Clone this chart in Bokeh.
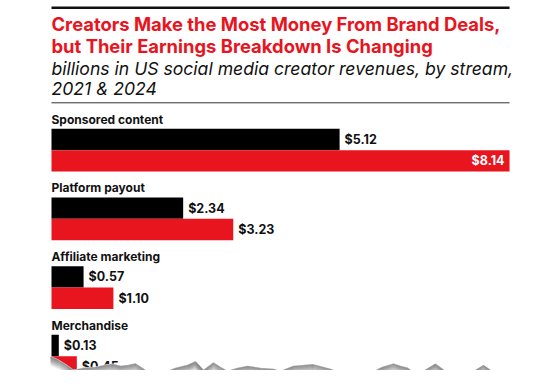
from bokeh.plotting import figure
from bokeh.models import Range1d
from bokeh.core.properties import value
from bokeh.embed import file_html
from bokeh.resources import INLINE

# ---------------- data ----------------
categories = ["Sponsored content", "Platform payout", "Affiliate marketing", "Merchandise"]
years = ["2021", "2024"]
values_2021 = [5.12, 2.34, 0.57, 0.13]
values_2024 = [8.14, 3.23, 1.10, 0.45]
title_lines = ["Creators Make the Most Money From Brand Deals,",
               "but Their Earnings Breakdown Is Changing"]
subtitle_lines = ["billions in US social media creator revenues, by stream,",
                  "2021 & 2024"]

# ---------------- style / layout ----------------
RED = "#E8141E"
BLACK = "#000000"
FONT = "Inter"
W, H = 544, 370
LEFT_PX = 51.0
PX_PER_UNIT = 56.27
GROUP_TOP0 = 128.3
GROUP_STEP = 68.67
BAR_H = 21.4

x_start = -LEFT_PX / PX_PER_UNIT
x_end = x_start + W / PX_PER_UNIT

p = figure(width=W, height=H, output_backend="svg", toolbar_location=None,
           x_range=Range1d(x_start, x_end),
           y_range=Range1d(H, 0),
           x_axis_location=None, y_axis_location=None,
           min_border=0, outline_line_color=None,
           background_fill_color="white", border_fill_color="white")
p.extra_x_ranges = {"px": Range1d(0, W)}
p.xgrid.visible = False
p.ygrid.visible = False

vmax = max(values_2024)

# header rules
p.segment(x0=[0], x1=[vmax], y0=[7.3], y1=[7.3], line_color="#111111", line_width=2.6)
p.segment(x0=[0], x1=[vmax], y0=[102.3], y1=[102.3], line_color="#333333", line_width=1)

# title & subtitle
p.text(x=[0, 0], y=[23.2, 45.0], text=title_lines, text_font=value(FONT),
       text_font_style="bold", text_font_size="18.4px", text_color=RED,
       text_baseline="middle", text_align="left")
p.text(x=[0, 0], y=[67.6, 88.4], text=subtitle_lines, text_font=value(FONT),
       text_font_style="italic", text_font_size="17.6px", text_color="#111111",
       text_baseline="middle", text_align="left")

# bars
tops = [GROUP_TOP0 + i * GROUP_STEP for i in range(len(categories))]
y21 = [t + BAR_H / 2 for t in tops]
y24 = [t + BAR_H * 1.5 for t in tops]
p.hbar(y=y21, left=0, right=values_2021, height=BAR_H, fill_color=BLACK, line_color=None)
p.hbar(y=y24, left=0, right=values_2024, height=BAR_H, fill_color=RED, line_color=None)

# category labels
p.text(x=[0] * len(categories), y=[t - 9.5 for t in tops], text=categories,
       text_font=value(FONT), text_font_style="bold", text_font_size="12px",
       text_color="#111111", text_baseline="middle", text_align="left")

# value labels
def fmt(v):
    return "$%.2f" % v

out_x, out_y, out_t, in_x, in_y, in_t = [], [], [], [], [], []
for vals, ys in ((values_2021, y21), (values_2024, y24)):
    for v, y in zip(vals, ys):
        if v >= 0.9 * vmax:
            in_x.append(v); in_y.append(y); in_t.append(fmt(v))
        else:
            out_x.append(v); out_y.append(y); out_t.append(fmt(v))
p.text(x=out_x, y=out_y, text=out_t, x_offset=5, text_font=value(FONT),
       text_font_style="bold", text_font_size="12.5px", text_color="#111111",
       text_baseline="middle", text_align="left")
p.text(x=in_x, y=in_y, text=in_t, x_offset=-5, text_font=value(FONT),
       text_font_style="bold", text_font_size="12.5px", text_color="white",
       text_baseline="middle", text_align="right")

# torn-paper edge (decoration, pixels)
tear_x = [50, 58, 66, 73, 83, 95, 105, 112, 120, 128, 135, 142, 150, 163, 175, 187,
          195, 203, 213, 220, 227, 237, 247, 260, 273, 280, 293, 313, 330, 340, 355,
          370, 382, 393, 400, 407, 417, 426, 435, 447, 467, 475, 483, 490, 497, 513, 516]
tear_y = [355.5, 359, 364, 369, 367, 366, 364, 363, 365, 364, 362.5, 367, 373, 371.5,
          367, 364, 360.5, 369, 361.5, 366, 370, 367, 365, 367, 368, 370, 365, 363.3,
          368, 371.7, 372, 371.7, 366, 362.7, 365, 366.7, 374, 368, 362.7, 371.7, 373.3,
          369, 364, 369, 373.3, 375, 378]
patch_x = [30] + tear_x + [560, 560, 30]
patch_y = [355.5] + tear_y + [378, 400, 400]
p.patch(patch_x, patch_y, x_range_name="px", fill_color="white", line_color=None)
for k in range(1, 10):
    p.line(tear_x, [y + k for y in tear_y], x_range_name="px", line_color="#5a5a5a",
           line_alpha=0.6 * (1 - k / 10.0), line_width=1.4)

open("out.html", "w").write(file_html(p, INLINE))
